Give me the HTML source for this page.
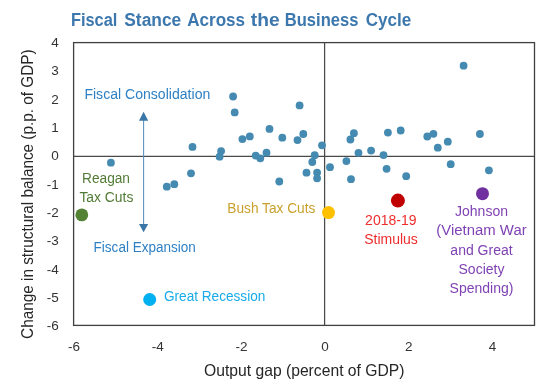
<!DOCTYPE html>
<html><head><meta charset="utf-8"><style>
html,body{margin:0;padding:0;background:#fff;}
svg{display:block;font-family:"Liberation Sans", sans-serif;will-change:transform;}
</style></head><body>
<svg width="550" height="387" viewBox="0 0 550 387">
<rect width="550" height="387" fill="#fff"/>
<text x="70.9" y="25.6" font-size="18" font-weight="bold" fill="#3C78AE" textLength="46.47" lengthAdjust="spacingAndGlyphs">Fiscal</text>
<text x="124.3" y="25.6" font-size="18" font-weight="bold" fill="#3C78AE" textLength="56.89" lengthAdjust="spacingAndGlyphs">Stance</text>
<text x="187.2" y="25.6" font-size="18" font-weight="bold" fill="#3C78AE" textLength="57.86" lengthAdjust="spacingAndGlyphs">Across</text>
<text x="250.8" y="25.6" font-size="18" font-weight="bold" fill="#3C78AE" textLength="28.84" lengthAdjust="spacingAndGlyphs">the</text>
<text x="284.8" y="25.6" font-size="18" font-weight="bold" fill="#3C78AE" textLength="73.65" lengthAdjust="spacingAndGlyphs">Business</text>
<text x="365.7" y="25.6" font-size="18" font-weight="bold" fill="#3C78AE" textLength="45.67" lengthAdjust="spacingAndGlyphs">Cycle</text>
<text x="58.8" y="47.1" font-size="13.5" text-anchor="end" fill="#333">4</text>
<text x="58.8" y="75.4" font-size="13.5" text-anchor="end" fill="#333">3</text>
<text x="58.8" y="103.7" font-size="13.5" text-anchor="end" fill="#333">2</text>
<text x="58.8" y="132.0" font-size="13.5" text-anchor="end" fill="#333">1</text>
<text x="58.8" y="160.3" font-size="13.5" text-anchor="end" fill="#333">0</text>
<text x="58.8" y="188.6" font-size="13.5" text-anchor="end" fill="#333">-1</text>
<text x="58.8" y="216.9" font-size="13.5" text-anchor="end" fill="#333">-2</text>
<text x="58.8" y="245.2" font-size="13.5" text-anchor="end" fill="#333">-3</text>
<text x="58.8" y="273.5" font-size="13.5" text-anchor="end" fill="#333">-4</text>
<text x="58.8" y="301.8" font-size="13.5" text-anchor="end" fill="#333">-5</text>
<text x="58.8" y="330.1" font-size="13.5" text-anchor="end" fill="#333">-6</text>
<text x="74.0" y="351.2" font-size="13.5" text-anchor="middle" fill="#333">-6</text>
<text x="157.7" y="351.2" font-size="13.5" text-anchor="middle" fill="#333">-4</text>
<text x="241.4" y="351.2" font-size="13.5" text-anchor="middle" fill="#333">-2</text>
<text x="325.1" y="351.2" font-size="13.5" text-anchor="middle" fill="#333">0</text>
<text x="408.8" y="351.2" font-size="13.5" text-anchor="middle" fill="#333">2</text>
<text x="492.5" y="351.2" font-size="13.5" text-anchor="middle" fill="#333">4</text>
<text x="204.00" y="376.00" font-size="16.5" fill="#262626" textLength="200.50" lengthAdjust="spacingAndGlyphs">Output gap (percent of GDP)</text>
<text x="0.00" y="0.00" font-size="16.5" fill="#262626" textLength="289.50" lengthAdjust="spacingAndGlyphs" transform="translate(33,338.9) rotate(-90)">Change in structural balance (p.p. of GDP)</text>
<line x1="73.5" y1="156.45" x2="534.5" y2="156.45" stroke="#4a4a4a" stroke-width="1.2"/>
<line x1="324.6" y1="42.5" x2="324.6" y2="325.5" stroke="#4a4a4a" stroke-width="1.25"/>
<rect x="73.6" y="42.6" width="460.9" height="282.8" fill="none" stroke="#404040" stroke-width="1.3"/>
<line x1="143.6" y1="119" x2="143.6" y2="225" stroke="#5A8EBF" stroke-width="1.05"/>
<polygon points="143.6,111.8 139,120.8 148.2,120.8" fill="#3A76A8"/>
<polygon points="143.6,232.3 139,224 148.2,224" fill="#3A76A8"/>
<circle cx="110.9" cy="162.7" r="3.9" fill="#458AB0"/>
<circle cx="166.8" cy="186.7" r="3.9" fill="#458AB0"/>
<circle cx="174.3" cy="184.2" r="3.9" fill="#458AB0"/>
<circle cx="191.0" cy="173.3" r="3.9" fill="#458AB0"/>
<circle cx="192.5" cy="146.9" r="3.9" fill="#458AB0"/>
<circle cx="219.6" cy="156.7" r="3.9" fill="#458AB0"/>
<circle cx="221.1" cy="151.1" r="3.9" fill="#458AB0"/>
<circle cx="233.1" cy="96.5" r="3.9" fill="#458AB0"/>
<circle cx="234.7" cy="112.4" r="3.9" fill="#458AB0"/>
<circle cx="242.4" cy="139.1" r="3.9" fill="#458AB0"/>
<circle cx="249.8" cy="136.4" r="3.9" fill="#458AB0"/>
<circle cx="255.7" cy="155.6" r="3.9" fill="#458AB0"/>
<circle cx="260.3" cy="158.3" r="3.9" fill="#458AB0"/>
<circle cx="266.5" cy="152.7" r="3.9" fill="#458AB0"/>
<circle cx="269.5" cy="128.9" r="3.9" fill="#458AB0"/>
<circle cx="279.3" cy="181.5" r="3.9" fill="#458AB0"/>
<circle cx="282.3" cy="137.7" r="3.9" fill="#458AB0"/>
<circle cx="297.5" cy="140.1" r="3.9" fill="#458AB0"/>
<circle cx="299.6" cy="105.4" r="3.9" fill="#458AB0"/>
<circle cx="303.3" cy="134.0" r="3.9" fill="#458AB0"/>
<circle cx="306.5" cy="172.7" r="3.9" fill="#458AB0"/>
<circle cx="312.3" cy="162.0" r="3.9" fill="#458AB0"/>
<circle cx="314.7" cy="155.2" r="3.9" fill="#458AB0"/>
<circle cx="317.1" cy="172.6" r="3.9" fill="#458AB0"/>
<circle cx="317.1" cy="178.3" r="3.9" fill="#458AB0"/>
<circle cx="322.0" cy="145.3" r="3.9" fill="#458AB0"/>
<circle cx="330.0" cy="167.2" r="3.9" fill="#458AB0"/>
<circle cx="346.4" cy="161.1" r="3.9" fill="#458AB0"/>
<circle cx="350.4" cy="139.5" r="3.9" fill="#458AB0"/>
<circle cx="351.0" cy="179.2" r="3.9" fill="#458AB0"/>
<circle cx="353.9" cy="133.2" r="3.9" fill="#458AB0"/>
<circle cx="358.5" cy="152.8" r="3.9" fill="#458AB0"/>
<circle cx="371.1" cy="150.6" r="3.9" fill="#458AB0"/>
<circle cx="383.5" cy="155.1" r="3.9" fill="#458AB0"/>
<circle cx="386.6" cy="168.8" r="3.9" fill="#458AB0"/>
<circle cx="387.9" cy="132.6" r="3.9" fill="#458AB0"/>
<circle cx="400.7" cy="130.5" r="3.9" fill="#458AB0"/>
<circle cx="406.2" cy="176.2" r="3.9" fill="#458AB0"/>
<circle cx="427.3" cy="136.5" r="3.9" fill="#458AB0"/>
<circle cx="433.4" cy="133.8" r="3.9" fill="#458AB0"/>
<circle cx="437.8" cy="147.7" r="3.9" fill="#458AB0"/>
<circle cx="447.8" cy="141.7" r="3.9" fill="#458AB0"/>
<circle cx="450.7" cy="164.2" r="3.9" fill="#458AB0"/>
<circle cx="463.6" cy="65.7" r="3.9" fill="#458AB0"/>
<circle cx="479.9" cy="134.0" r="3.9" fill="#458AB0"/>
<circle cx="488.9" cy="170.3" r="3.9" fill="#458AB0"/>
<text x="84.40" y="99.10" font-size="14" fill="#2E80C4" textLength="125.90" lengthAdjust="spacingAndGlyphs">Fiscal Consolidation</text>
<text x="93.60" y="251.90" font-size="14" fill="#2E80C4" textLength="102.20" lengthAdjust="spacingAndGlyphs">Fiscal Expansion</text>
<text x="164.00" y="300.90" font-size="14" fill="#17ABE9" textLength="101.30" lengthAdjust="spacingAndGlyphs">Great Recession</text>
<text x="227.30" y="212.50" font-size="14" fill="#C9A12C" textLength="88.10" lengthAdjust="spacingAndGlyphs">Bush Tax Cuts</text>
<text x="106.00" y="182.70" font-size="14" fill="#517A35" text-anchor="middle" textLength="48.00" lengthAdjust="spacingAndGlyphs">Reagan</text>
<text x="106.40" y="201.50" font-size="14" fill="#517A35" text-anchor="middle" textLength="54.00" lengthAdjust="spacingAndGlyphs">Tax Cuts</text>
<text x="390.80" y="225.00" font-size="14" fill="#EE2D2D" text-anchor="middle">2018-19</text>
<text x="391.00" y="243.50" font-size="14" fill="#EE2D2D" text-anchor="middle">Stimulus</text>
<text x="481.50" y="216.00" font-size="14" fill="#7F42B4" text-anchor="middle">Johnson</text>
<text x="481.50" y="234.50" font-size="14" fill="#7F42B4" text-anchor="middle" textLength="90.30" lengthAdjust="spacingAndGlyphs">(Vietnam War</text>
<text x="481.50" y="254.60" font-size="14" fill="#7F42B4" text-anchor="middle">and Great</text>
<text x="481.50" y="273.70" font-size="14" fill="#7F42B4" text-anchor="middle">Society</text>
<text x="481.50" y="292.80" font-size="14" fill="#7F42B4" text-anchor="middle">Spending)</text>
<circle cx="81.8" cy="214.9" r="6.4" fill="#548235"/>
<circle cx="328.5" cy="212.6" r="6.5" fill="#FFC000"/>
<circle cx="397.9" cy="200.6" r="7.0" fill="#C00000"/>
<circle cx="482.5" cy="193.7" r="6.5" fill="#7030A0"/>
<circle cx="149.7" cy="299.5" r="6.5" fill="#00B0F0"/>
</svg>
</body></html>
